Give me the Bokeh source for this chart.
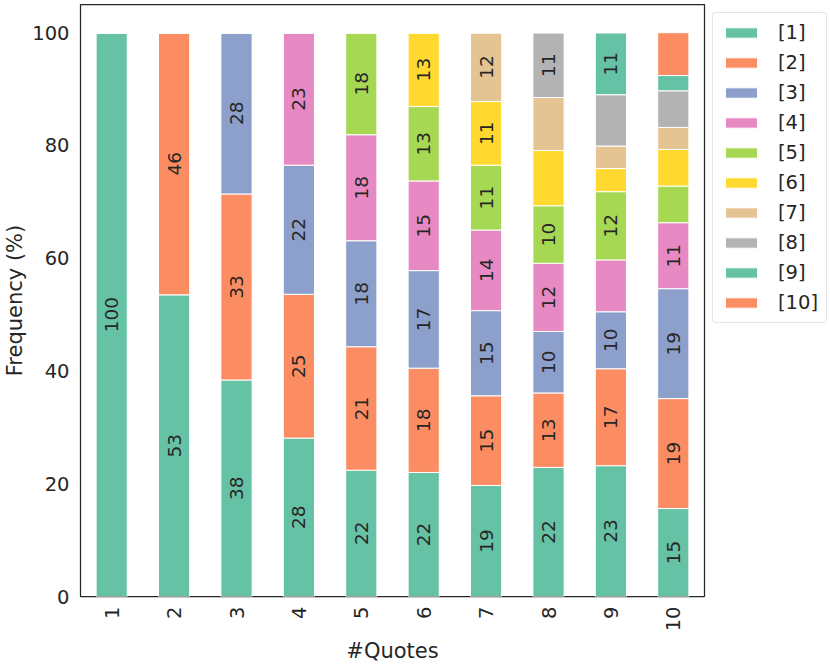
import math
from bokeh.plotting import figure
from bokeh.models import ColumnDataSource, FactorRange, Range1d, FixedTicker, Legend, LegendItem
from bokeh.core.properties import value
from bokeh.embed import file_html
from bokeh.resources import INLINE

# ---------------- data ----------------
quotes = ["1", "2", "3", "4", "5", "6", "7", "8", "9", "10"]
series_names = ["[1]", "[2]", "[3]", "[4]", "[5]", "[6]", "[7]", "[8]", "[9]", "[10]"]

s1 = [100.0, 53.5, 38.4, 28.1, 22.4, 22.0, 19.7, 22.9, 23.2, 15.6]
s2 = [0.0, 46.5, 33.0, 25.5, 21.9, 18.5, 15.9, 13.2, 17.2, 19.5]
s3 = [0.0, 0.0, 28.6, 22.9, 18.8, 17.3, 15.1, 10.9, 10.1, 19.5]
s4 = [0.0, 0.0, 0.0, 23.5, 18.8, 15.9, 14.3, 12.1, 9.2, 11.7]
s5 = [0.0, 0.0, 0.0, 0.0, 18.1, 13.2, 11.5, 10.2, 12.1, 6.5]
s6 = [0.0, 0.0, 0.0, 0.0, 0.0, 13.1, 11.3, 9.8, 4.1, 6.5]
s7 = [0.0, 0.0, 0.0, 0.0, 0.0, 0.0, 12.2, 9.4, 4.0, 3.9]
s8 = [0.0, 0.0, 0.0, 0.0, 0.0, 0.0, 0.0, 11.5, 9.1, 6.5]
s9 = [0.0, 0.0, 0.0, 0.0, 0.0, 0.0, 0.0, 0.0, 11.0, 2.7]
s10 = [0.0, 0.0, 0.0, 0.0, 0.0, 0.0, 0.0, 0.0, 0.0, 7.6]

y_ticks = [0, 20, 40, 60, 80, 100]

series = [s1, s2, s3, s4, s5, s6, s7, s8, s9, s10]
colors = ["#66c2a5", "#fc8d62", "#8da0cb", "#e78ac3", "#a6d854",
          "#ffd92f", "#e5c494", "#b3b3b3", "#66c2a5", "#fc8d62"]

TEXT = "#262626"
FONT = "DejaVu Sans"

keys = ["s%d" % (i + 1) for i in range(len(series))]
data = {"q": quotes}
for k, s in zip(keys, series):
    data[k] = s
source = ColumnDataSource(data)

p = figure(
    x_range=FactorRange(*quotes, range_padding=0, factor_padding=0),
    y_range=Range1d(0, 105),
    frame_width=624, frame_height=592,
    min_border_left=80, min_border_right=126,
    min_border_top=4, min_border_bottom=68,
    output_backend="svg", toolbar_location=None,
)

renderers = p.vbar_stack(keys, x="q", width=0.5, source=source,
                         color=colors, line_color="white", line_width=1)

# segment labels
lx, ly, lt = [], [], []
for j, q in enumerate(quotes):
    bottom = 0.0
    for s in series:
        v = s[j]
        if v >= 10:
            lx.append(q)
            ly.append(bottom + v / 2.0)
            lt.append(str(int(v)))
        bottom += v
p.text(x="x", y="y", text="t", source=ColumnDataSource(dict(x=lx, y=ly, t=lt)),
       angle=math.pi / 2, text_align="center", text_baseline="middle",
       text_font=value(FONT), text_font_size="18.5px", text_color=TEXT)

# axes
p.xgrid.grid_line_color = None
p.ygrid.grid_line_color = None
p.outline_line_color = TEXT
p.outline_line_width = 1.25

for ax in (p.xaxis[0], p.yaxis[0]):
    ax.axis_line_color = None
    ax.major_tick_line_color = None
    ax.minor_tick_line_color = None
    ax.major_tick_out = 0
    ax.major_tick_in = 0
    ax.major_label_text_font = FONT
    ax.major_label_text_font_size = "19.5px"
    ax.major_label_text_color = TEXT
    ax.axis_label_text_font = FONT
    ax.axis_label_text_font_size = "21px"
    ax.axis_label_text_font_style = "normal"
    ax.axis_label_text_color = TEXT

p.yaxis.ticker = FixedTicker(ticks=y_ticks)
p.yaxis.axis_label = "Frequency (%)"
p.yaxis.major_label_standoff = 11
p.yaxis.axis_label_standoff = 2
p.xaxis.axis_label = "#Quotes"
p.xaxis.major_label_orientation = math.pi / 2
p.xaxis.major_label_standoff = 10
p.xaxis.axis_label_standoff = 5

legend = Legend(
    items=[LegendItem(label=n, renderers=[r]) for n, r in zip(series_names, renderers)],
    location="top_left", margin=8, padding=8, spacing=7,
    glyph_width=40, glyph_height=13, label_standoff=17,
    label_text_font=FONT, label_text_font_size="19.5px", label_text_color=TEXT,
    border_line_color="#cccccc", border_line_width=1,
    background_fill_color="white", background_fill_alpha=0.8,
)
if "border_radius" in Legend.properties():
    legend.border_radius = 4
p.add_layout(legend, "right")

open("out.html", "w").write(file_html(p, INLINE))
